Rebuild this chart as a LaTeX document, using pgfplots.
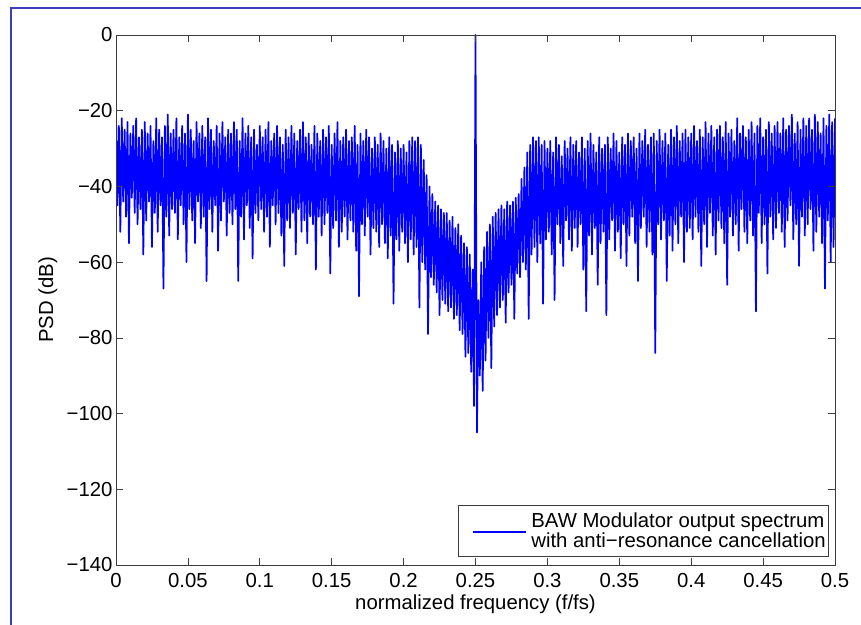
\documentclass[border=0pt]{standalone}
\usepackage{fontspec}
\setmainfont{Liberation Sans}
\usepackage{pgfplots}
\pgfplotsset{compat=1.18}
\definecolor{framecol}{RGB}{60,60,190}
\definecolor{axcol}{RGB}{60,60,60}
\newcommand{\bigf}{\fontsize{20.4}{19.5}\selectfont}
\begin{document}
\begin{tikzpicture}
\useasboundingbox (0,0) rectangle (861bp,625bp);
\fill[white] (0,0) rectangle (861bp,625bp);
\draw[framecol, line width=2bp] (11bp,0) -- (11bp,617bp) -- (861bp,617bp);
\begin{axis}[
  at={(116bp,60bp)}, anchor=south west,
  scale only axis, width=719bp, height=530bp,
  xmin=0, xmax=0.5, ymin=-140, ymax=0,
  xtick={0,0.05,0.1,0.15,0.2,0.25,0.3,0.35,0.4,0.45,0.5},
  xticklabels={0,0.05,0.1,0.15,0.2,0.25,0.3,0.35,0.4,0.45,0.5},
  ytick={-140,-120,-100,-80,-60,-40,-20,0},
  yticklabels={−140,−120,−100,−80,−60,−40,−20,0},
  scaled ticks=false,
  tick align=inside, major tick length=7bp,
  tick style={color=axcol, line width=0.7bp},
  axis line style={color=axcol, line width=0.8bp},
  axis on top,
  tick label style={font=\bigf},
  xticklabel style={yshift=-5bp},
  xlabel={normalized frequency (f/fs)},
  ylabel={PSD (dB)},
  xlabel style={font=\bigf, at={(axis description cs:0.5,-0.0849)}, anchor=base},
  ylabel style={font=\bigf, at={(axis description cs:-0.0876,0.5)}, anchor=base, rotate=0},
  legend style={font=\bigf, at={(rel axis cs:1,0)}, anchor=south east, xshift=-6bp, yshift=8bp,
    draw=axcol, line width=0.6bp, inner xsep=1bp, inner ysep=6bp,
    cells={align=left, anchor=west}},
  legend image code/.code={\path[draw=none] (0bp,0bp) -- (70bp,0bp); \draw[#1, line width=1.4bp] (14bp,-1bp) -- (67bp,-1bp);},
]
\addplot[blue, line width=1.7bp, line join=round] coordinates {
(0.000,-21)(0.001,-45)(0.002,-24)(0.003,-52)(0.004,-22)(0.005,-44)(0.006,-25)(0.007,-48)(0.008,-23)(0.009,-55)(0.010,-26)(0.011,-43)(0.012,-24)(0.013,-47)(0.014,-22)(0.015,-50)(0.016,-27)(0.017,-46)(0.018,-25)(0.019,-58)
(0.020,-23)(0.021,-49)(0.022,-26)(0.023,-44)(0.024,-24)(0.025,-56)(0.026,-28)(0.027,-47)(0.028,-22)(0.029,-52)(0.030,-25)(0.031,-45)(0.032,-27)(0.033,-67)(0.034,-24)(0.035,-48)(0.036,-21)(0.037,-53)(0.038,-26)(0.039,-46)
(0.040,-25)(0.041,-47)(0.042,-22)(0.043,-54)(0.044,-27)(0.045,-45)(0.046,-24)(0.047,-50)(0.048,-26)(0.049,-60)(0.050,-21)(0.051,-46)(0.052,-25)(0.053,-49)(0.054,-28)(0.055,-55)(0.056,-23)(0.057,-44)(0.058,-26)(0.059,-51)
(0.060,-24)(0.061,-48)(0.062,-27)(0.063,-65)(0.064,-22)(0.065,-46)(0.066,-25)(0.067,-52)(0.068,-28)(0.069,-45)(0.070,-24)(0.071,-57)(0.072,-26)(0.073,-49)(0.074,-23)(0.075,-44)(0.076,-27)(0.077,-53)(0.078,-25)(0.079,-47)
(0.080,-26)(0.081,-50)(0.082,-23)(0.083,-46)(0.084,-25)(0.085,-65)(0.086,-28)(0.087,-48)(0.088,-22)(0.089,-54)(0.090,-26)(0.091,-45)(0.092,-24)(0.093,-51)(0.094,-27)(0.095,-59)(0.096,-25)(0.097,-47)(0.098,-29)(0.099,-49)
(0.100,-24)(0.101,-46)(0.102,-27)(0.103,-52)(0.104,-25)(0.105,-48)(0.106,-23)(0.107,-56)(0.108,-28)(0.109,-45)(0.110,-26)(0.111,-50)(0.112,-24)(0.113,-47)(0.114,-27)(0.115,-53)(0.116,-29)(0.117,-61)(0.118,-25)(0.119,-49)
(0.120,-27)(0.121,-51)(0.122,-24)(0.123,-47)(0.124,-26)(0.125,-58)(0.126,-28)(0.127,-46)(0.128,-25)(0.129,-52)(0.130,-23)(0.131,-49)(0.132,-27)(0.133,-55)(0.134,-26)(0.135,-48)(0.136,-29)(0.137,-50)(0.138,-24)(0.139,-62)
(0.140,-26)(0.141,-48)(0.142,-28)(0.143,-53)(0.144,-25)(0.145,-50)(0.146,-27)(0.147,-47)(0.148,-24)(0.149,-63)(0.150,-29)(0.151,-51)(0.152,-26)(0.153,-49)(0.154,-23)(0.155,-56)(0.156,-28)(0.157,-52)(0.158,-27)(0.159,-48)
(0.160,-25)(0.161,-54)(0.162,-28)(0.163,-49)(0.164,-27)(0.165,-52)(0.166,-24)(0.167,-57)(0.168,-29)(0.169,-69)(0.170,-26)(0.171,-50)(0.172,-28)(0.173,-53)(0.174,-25)(0.175,-48)(0.176,-27)(0.177,-58)(0.178,-30)(0.179,-51)
(0.180,-27)(0.181,-52)(0.182,-29)(0.183,-56)(0.184,-26)(0.185,-50)(0.186,-28)(0.187,-55)(0.188,-30)(0.189,-59)(0.190,-27)(0.191,-53)(0.192,-29)(0.193,-71)(0.194,-31)(0.195,-54)(0.196,-28)(0.197,-57)(0.198,-30)(0.199,-52)
(0.200,-29)(0.201,-55)(0.202,-31)(0.203,-60)(0.204,-28)(0.205,-54)(0.206,-27)(0.207,-58)(0.208,-28)(0.209,-56)(0.210,-27)(0.211,-72)(0.212,-29)(0.213,-60)(0.214,-33)(0.215,-62)(0.216,-37)(0.217,-79)(0.218,-40)(0.219,-64)
(0.220,-42)(0.221,-66)(0.222,-44)(0.223,-68)(0.224,-45)(0.225,-74)(0.226,-46)(0.227,-70)(0.228,-47)(0.229,-71)(0.230,-47)(0.231,-73)(0.232,-49)(0.233,-72)(0.234,-48)(0.235,-75)(0.236,-51)(0.237,-74)(0.238,-50)(0.239,-78)
(0.240,-53)(0.241,-79)(0.242,-55)(0.243,-85)(0.244,-56)(0.245,-84)(0.246,-58)(0.247,-89)(0.248,-62)(0.249,-98)(0.250,0)(0.251,-105)(0.252,-70)(0.253,-90)(0.254,-60)(0.255,-94)(0.256,-56)(0.257,-86)(0.258,-52)(0.259,-80)
(0.260,-50)(0.261,-88)(0.262,-48)(0.263,-77)(0.264,-47)(0.265,-74)(0.266,-46)(0.267,-72)(0.268,-45)(0.269,-70)(0.270,-46)(0.271,-76)(0.272,-44)(0.273,-68)(0.274,-45)(0.275,-66)(0.276,-44)(0.277,-75)(0.278,-43)(0.279,-63)
(0.280,-42)(0.281,-64)(0.282,-38)(0.283,-60)(0.284,-35)(0.285,-62)(0.286,-31)(0.287,-75)(0.288,-29)(0.289,-58)(0.290,-27)(0.291,-56)(0.292,-28)(0.293,-60)(0.294,-27)(0.295,-55)(0.296,-29)(0.297,-71)(0.298,-28)(0.299,-54)
(0.300,-30)(0.301,-52)(0.302,-28)(0.303,-58)(0.304,-31)(0.305,-70)(0.306,-27)(0.307,-50)(0.308,-29)(0.309,-55)(0.310,-32)(0.311,-61)(0.312,-28)(0.313,-49)(0.314,-30)(0.315,-54)(0.316,-27)(0.317,-57)(0.318,-29)(0.319,-51)
(0.320,-28)(0.321,-56)(0.322,-31)(0.323,-50)(0.324,-27)(0.325,-62)(0.326,-30)(0.327,-73)(0.328,-28)(0.329,-53)(0.330,-26)(0.331,-58)(0.332,-29)(0.333,-51)(0.334,-31)(0.335,-66)(0.336,-27)(0.337,-55)(0.338,-30)(0.339,-52)
(0.340,-29)(0.341,-74)(0.342,-27)(0.343,-54)(0.344,-30)(0.345,-49)(0.346,-26)(0.347,-57)(0.348,-28)(0.349,-52)(0.350,-31)(0.351,-59)(0.352,-27)(0.353,-50)(0.354,-29)(0.355,-61)(0.356,-26)(0.357,-53)(0.358,-28)(0.359,-48)
(0.360,-27)(0.361,-55)(0.362,-30)(0.363,-65)(0.364,-26)(0.365,-51)(0.366,-28)(0.367,-48)(0.368,-25)(0.369,-56)(0.370,-29)(0.371,-52)(0.372,-27)(0.373,-58)(0.374,-26)(0.375,-84)(0.376,-28)(0.377,-50)(0.378,-25)(0.379,-54)
(0.380,-28)(0.381,-49)(0.382,-26)(0.383,-65)(0.384,-29)(0.385,-53)(0.386,-25)(0.387,-57)(0.388,-27)(0.389,-50)(0.390,-24)(0.391,-55)(0.392,-28)(0.393,-48)(0.394,-26)(0.395,-60)(0.396,-25)(0.397,-52)(0.398,-27)(0.399,-51)
(0.400,-26)(0.401,-54)(0.402,-24)(0.403,-48)(0.404,-28)(0.405,-52)(0.406,-25)(0.407,-61)(0.408,-27)(0.409,-50)(0.410,-23)(0.411,-56)(0.412,-26)(0.413,-47)(0.414,-24)(0.415,-53)(0.416,-27)(0.417,-58)(0.418,-25)(0.419,-49)
(0.420,-24)(0.421,-51)(0.422,-27)(0.423,-55)(0.424,-23)(0.425,-66)(0.426,-26)(0.427,-48)(0.428,-25)(0.429,-53)(0.430,-28)(0.431,-50)(0.432,-22)(0.433,-57)(0.434,-26)(0.435,-46)(0.436,-24)(0.437,-52)(0.438,-27)(0.439,-55)
(0.440,-25)(0.441,-49)(0.442,-23)(0.443,-53)(0.444,-26)(0.445,-73)(0.446,-24)(0.447,-47)(0.448,-22)(0.449,-55)(0.450,-27)(0.451,-50)(0.452,-25)(0.453,-63)(0.454,-23)(0.455,-48)(0.456,-26)(0.457,-54)(0.458,-24)(0.459,-51)
(0.460,-23)(0.461,-47)(0.462,-26)(0.463,-52)(0.464,-22)(0.465,-56)(0.466,-25)(0.467,-49)(0.468,-24)(0.469,-45)(0.470,-21)(0.471,-54)(0.472,-26)(0.473,-50)(0.474,-23)(0.475,-61)(0.476,-25)(0.477,-48)(0.478,-22)(0.479,-53)
(0.480,-24)(0.481,-50)(0.482,-22)(0.483,-46)(0.484,-25)(0.485,-57)(0.486,-21)(0.487,-52)(0.488,-23)(0.489,-48)(0.490,-26)(0.491,-55)(0.492,-22)(0.493,-67)(0.494,-24)(0.495,-49)(0.496,-21)(0.497,-60)(0.498,-23)(0.499,-56)
(0.500,-22)
};
\addlegendentry{BAW Modulator output spectrum\\with anti−resonance cancellation}
\end{axis}
\end{tikzpicture}
\end{document}
